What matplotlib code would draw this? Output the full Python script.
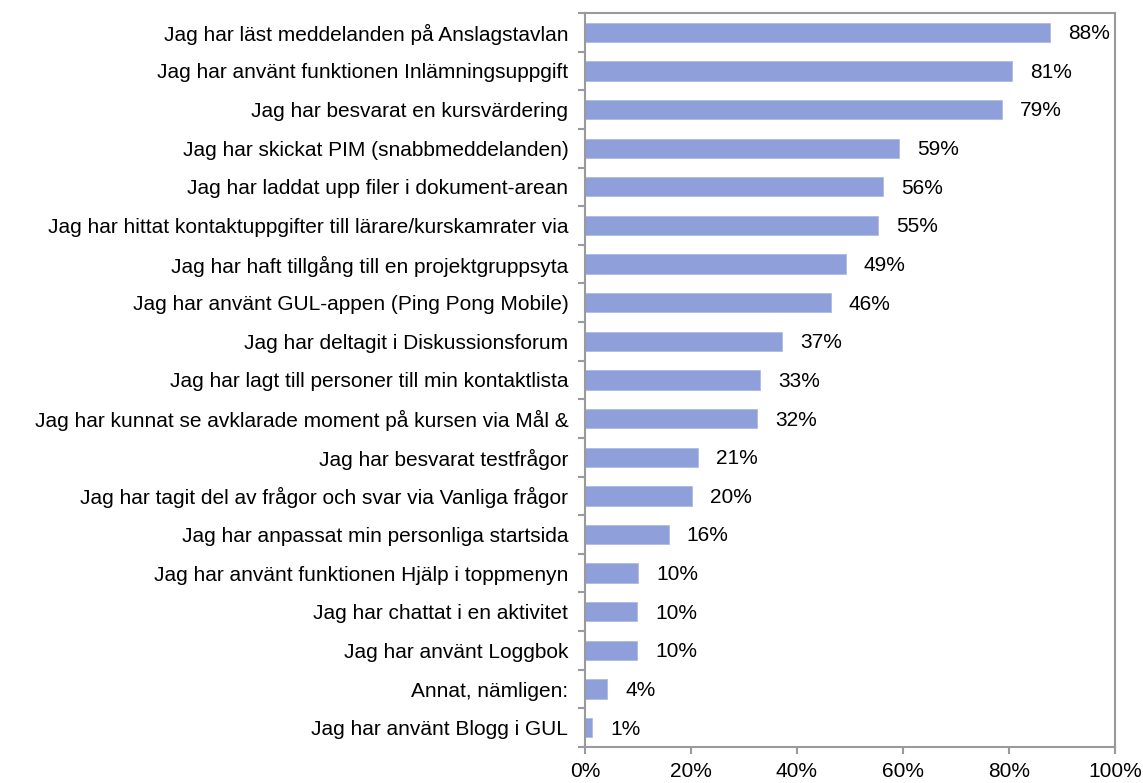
import matplotlib
matplotlib.use("Agg")
import matplotlib.pyplot as plt
import numpy as np

# Data (top to bottom as in the chart)
CATEGORIES = [
    "Jag har läst meddelanden på Anslagstavlan",
    "Jag har använt funktionen Inlämningsuppgift",
    "Jag har besvarat en kursvärdering",
    "Jag har skickat PIM (snabbmeddelanden)",
    "Jag har laddat upp filer i dokument-arean",
    "Jag har hittat kontaktuppgifter till lärare/kurskamrater via",
    "Jag har haft tillgång till en projektgruppsyta",
    "Jag har använt GUL-appen (Ping Pong Mobile)",
    "Jag har deltagit i Diskussionsforum",
    "Jag har lagt till personer till min kontaktlista",
    "Jag har kunnat se avklarade moment på kursen via Mål &",
    "Jag har besvarat testfrågor",
    "Jag har tagit del av frågor och svar via Vanliga frågor",
    "Jag har anpassat min personliga startsida",
    "Jag har använt funktionen Hjälp i toppmenyn",
    "Jag har chattat i en aktivitet",
    "Jag har använt Loggbok",
    "Annat, nämligen:",
    "Jag har använt Blogg i GUL",
]
VALUES = [87.7, 80.6, 78.7, 59.2, 56.2, 55.3, 49.2, 46.4, 37.2, 33.0,
          32.4, 21.4, 20.2, 15.8, 10.0, 9.8, 9.8, 4.2, 1.4]
X_TICKS = [0, 20, 40, 60, 80, 100]

BAR_COLOR = "#8e9fda"
SPINE_COLOR = "#9a9a9a"
FONT_SIZE = 15

plt.rcParams["font.family"] = ["Liberation Sans", "DejaVu Sans"]

fig = plt.figure(figsize=(11.43, 7.83), dpi=100)
ax = fig.add_axes([0.5118, 0.046, 0.4637, 0.9374])

y = np.arange(len(CATEGORIES))
ax.barh(y, VALUES, height=0.5, color=BAR_COLOR, edgecolor="#aab6e3", linewidth=0.5)

# Percentage labels right of each bar
for yi, v in zip(y, VALUES):
    ax.annotate(f"{v:.0f}%", xy=(v, yi), xytext=(13, -1), textcoords="offset points",
                ha="left", va="center", fontsize=FONT_SIZE, color="black")

ax.set_xlim(0, 100)
ax.set_ylim(len(CATEGORIES) - 0.5, -0.5)

ax.set_xticks(X_TICKS)
ax.set_xticklabels([f"{t}%" for t in X_TICKS], fontsize=FONT_SIZE)
ax.set_yticks(y)
ax.set_yticklabels(CATEGORIES, fontsize=FONT_SIZE)
ax.set_yticks(np.arange(-0.5, len(CATEGORIES)), minor=True)

ax.tick_params(axis="y", which="major", length=0, pad=12)
ax.tick_params(axis="y", which="minor", length=5, color=SPINE_COLOR, width=1.5)
ax.tick_params(axis="x", which="major", length=5, color=SPINE_COLOR, width=1.5, pad=6)

for s in ax.spines.values():
    s.set_color(SPINE_COLOR)
    s.set_linewidth(1.5)

fig.savefig("out.png", dpi=100)
